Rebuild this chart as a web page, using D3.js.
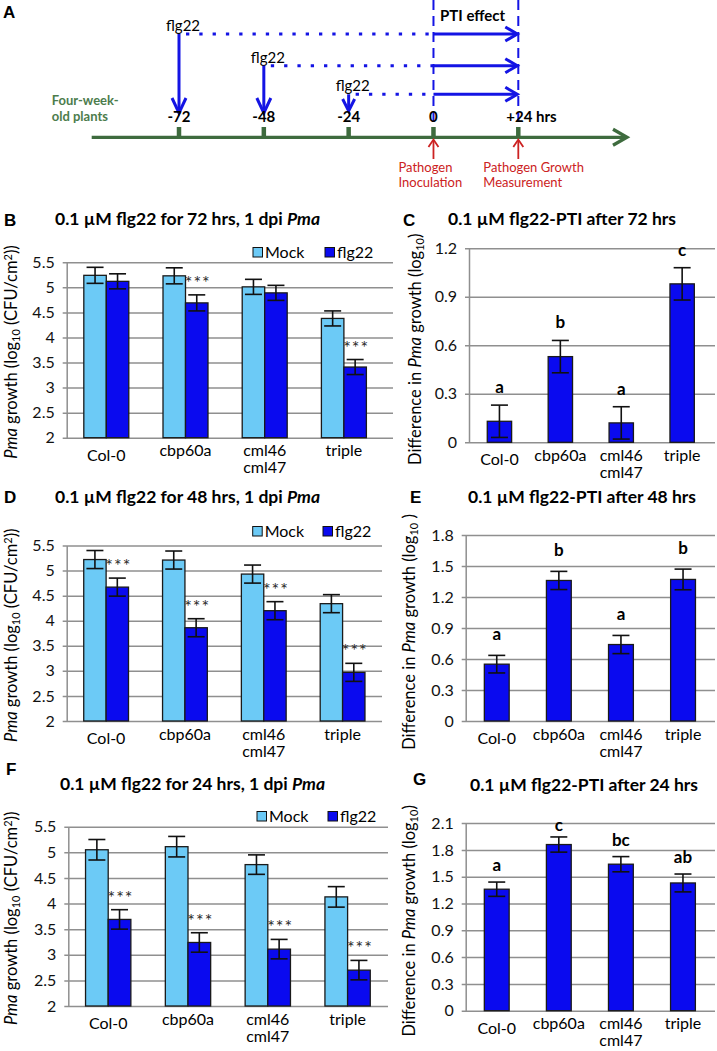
<!DOCTYPE html>
<html><head><meta charset="utf-8">
<script src="https://cdn.jsdelivr.net/npm/d3@7"></script>
<style>
body{margin:0;background:#fff}
svg{display:block}
text{font-family:Lato,"Open Sans",sans-serif}
</style>
</head><body>
<svg id="fig" width="717" height="1051"></svg>
<script>
// ---------------- data ----------------
const categories = ["Col-0", "cbp60a", "cml46\ncml47", "triple"];
const seriesNames = ["Mock", "flg22"];
const growthTicks = [2, 2.5, 3, 3.5, 4, 4.5, 5, 5.5];

// Panel B: 72 h
const mock72 = [5.24, 5.23, 5.01, 4.38];
const mockErr72 = [0.16, 0.16, 0.15, 0.15];
const flg72 = [5.12, 4.69, 4.89, 3.41];
const flgErr72 = [0.15, 0.16, 0.15, 0.15];
const sig72 = ["", "***", "", "***"];
// Panel C
const diff72 = [0.13, 0.53, 0.12, 0.98];
const diffErr72 = [0.10, 0.10, 0.10, 0.10];
const letters72 = ["a", "b", "a", "c"];
const diffTicks72 = [0, 0.3, 0.6, 0.9, 1.2];

// Panel D: 48 h
const mock48 = [5.22, 5.21, 4.93, 4.34];
const mockErr48 = [0.18, 0.18, 0.18, 0.18];
const flg48 = [4.67, 3.86, 4.20, 2.97];
const flgErr48 = [0.18, 0.18, 0.18, 0.18];
const sig48 = ["***", "***", "***", "***"];
// Panel E
const diff48 = [0.55, 1.36, 0.74, 1.37];
const diffErr48 = [0.085, 0.088, 0.088, 0.10];
const letters48 = ["a", "b", "a", "b"];
const diffTicks48 = [0, 0.3, 0.6, 0.9, 1.2, 1.5, 1.8];

// Panel F: 24 h
const mock24 = [5.05, 5.11, 4.76, 4.13];
const mockErr24 = [0.20, 0.20, 0.19, 0.20];
const flg24 = [3.69, 3.24, 3.11, 2.70];
const flgErr24 = [0.19, 0.19, 0.19, 0.19];
const sig24 = ["***", "***", "***", "***"];
// Panel G
const diff24 = [1.36, 1.86, 1.64, 1.43];
const diffErr24 = [0.08, 0.085, 0.085, 0.10];
const letters24 = ["a", "c", "bc", "ab"];
const diffTicks24 = [0, 0.3, 0.6, 0.9, 1.2, 1.5, 1.8, 2.1];

// Panel A: timeline
const timePoints = [-72, -48, -24, 0, 24];
const timeLabels = ["-72", "-48", "-24", "0", "+24 hrs"];
const treatmentTimes = [-72, -48, -24];
const treatmentLabel = "flg22";
const eventTimes = [0, 24];
const eventLabels = [["Pathogen", "Inoculation"], ["Pathogen Growth", "Measurement"]];

// ---------------- style ----------------
const C_MOCK = "#6ccaf6", C_FLG = "#0a0aef", C_GRID = "#8f8f8f";
const C_BLUE = "#1414e4", C_GREEN = "#3e6b3e", C_GTEXT = "#4c7c4c", C_RED = "#cc2222";
const FS_TICK = 16, FS_CAT = 16, FS_TITLE = 17.5, FS_YT = 16.5, FS_LEG = 16;
const svg = d3.select("#fig");

function panelLetter(t, x, y) {
  svg.append("text").attr("x", x).attr("y", y).text(t)
    .style("font-family", "'Liberation Sans',Arial,sans-serif")
    .attr("font-weight", "bold").attr("font-size", 17);
}

// ---------------- Panel A ----------------
(function () {
  panelLetter("A", 3, 18);
  const g = svg.append("g");
  const xT = d3.scaleLinear().domain([-72, 24]).range([179, 518.3]);
  const axisY = 137.3;
  const rowY = [34, 65.7, 94.3];
  const tipY = [113, 113, 111];

  eventTimes.forEach(t => {
    g.append("line").attr("x1", xT(t)).attr("x2", xT(t)).attr("y1", 0).attr("y2", 128)
      .attr("stroke", C_BLUE).attr("stroke-width", 2).attr("stroke-dasharray", "10,6");
  });
  g.append("text").attr("x", 440).attr("y", 21).text("PTI effect")
    .attr("font-weight", "bold").attr("font-size", 15);

  treatmentTimes.forEach((t, i) => {
    const x = xT(t), y = rowY[i];
    g.append("text").attr("x", x - 13).attr("y", y - 3).text(treatmentLabel).attr("font-size", 15);
    g.append("line").attr("x1", x).attr("x2", x).attr("y1", y).attr("y2", tipY[i] - 1.5)
      .attr("stroke", C_BLUE).attr("stroke-width", 3);
    const ah = i === 2 ? 12 : 15, aw = i === 2 ? 6 : 7;
    g.append("polyline").attr("points", `${x - aw},${tipY[i] - ah} ${x},${tipY[i]} ${x + aw},${tipY[i] - ah}`)
      .attr("fill", "none").attr("stroke", C_BLUE).attr("stroke-width", 3);
    g.append("line").attr("x1", x + 7).attr("x2", xT(0)).attr("y1", y).attr("y2", y)
      .attr("stroke", C_BLUE).attr("stroke-width", 3).attr("stroke-dasharray", "3.3,10");
    const xe = xT(24) - 1;
    g.append("line").attr("x1", xT(0)).attr("x2", xe - 1).attr("y1", y).attr("y2", y)
      .attr("stroke", C_BLUE).attr("stroke-width", 3);
    g.append("polyline").attr("points", `${xe - 12},${y - 7} ${xe},${y} ${xe - 12},${y + 7}`)
      .attr("fill", "none").attr("stroke", C_BLUE).attr("stroke-width", 3);
  });

  g.append("line").attr("x1", 91.7).attr("x2", 626).attr("y1", axisY).attr("y2", axisY)
    .attr("stroke", C_GREEN).attr("stroke-width", 3.3);
  g.append("polyline").attr("points", `613,${axisY - 8} 627,${axisY} 613,${axisY + 8}`)
    .attr("fill", "none").attr("stroke", C_GREEN).attr("stroke-width", 3.3);
  timePoints.forEach((t, i) => {
    g.append("line").attr("x1", xT(t)).attr("x2", xT(t)).attr("y1", 127).attr("y2", axisY)
      .attr("stroke", C_GREEN).attr("stroke-width", 4.5);
    const last = i === timePoints.length - 1;
    g.append("text").attr("x", last ? xT(t) - 12 : xT(t)).attr("y", 122)
      .attr("text-anchor", last ? "start" : "middle")
      .attr("font-weight", "bold").attr("font-size", 15).text(timeLabels[i]);
  });
  g.append("text").attr("x", 51.7).attr("y", 104.5).text("Four-week-")
    .attr("font-weight", "bold").attr("font-size", 13).attr("fill", C_GTEXT);
  g.append("text").attr("x", 51.7).attr("y", 120.5).text("old plants")
    .attr("font-weight", "bold").attr("font-size", 13).attr("fill", C_GTEXT);

  eventTimes.forEach((t, i) => {
    const x = xT(t);
    g.append("line").attr("x1", x).attr("x2", x).attr("y1", 159).attr("y2", 140)
      .attr("stroke", C_RED).attr("stroke-width", 1.8);
    g.append("polyline").attr("points", `${x - 5},${147} ${x},${139.5} ${x + 5},${147}`)
      .attr("fill", "none").attr("stroke", C_RED).attr("stroke-width", 1.8);
    eventLabels[i].forEach((s, j) => {
      g.append("text").attr("x", x - 35).attr("y", 172 + j * 15).text(s)
        .attr("font-size", 13).attr("fill", C_RED);
    });
  });
})();

// ---------------- helpers ----------------
function categoryLabels(g, x, yBase) {
  categories.forEach(c => {
    const lines = c.split("\n");
    const cx = x(c) + x.bandwidth() / 2;
    const y0 = yBase + (c === "Col-0" ? 23 : 18.5);
    lines.forEach((s, j) => g.append("text").attr("text-anchor", "middle")
      .attr("font-size", FS_CAT).attr("x", cx).attr("y", y0 + j * 17).text(s));
  });
}

function errorBar(g, cx, yTop, yBot) {
  g.append("line").attr("x1", cx).attr("x2", cx).attr("y1", yTop).attr("y2", yBot)
    .attr("stroke", "#111").attr("stroke-width", 1.6);
  [yTop, yBot].forEach(yy => g.append("line").attr("x1", cx - 8.5).attr("x2", cx + 8.5)
    .attr("y1", yy).attr("y2", yy).attr("stroke", "#111").attr("stroke-width", 1.6));
}

function styleAxis(ax) {
  ax.select(".domain").attr("stroke", C_GRID).attr("stroke-width", 1.5);
  ax.selectAll(".tick line").attr("stroke", C_GRID).attr("stroke-width", 1.5).attr("x1", -4);
  ax.selectAll(".tick text").attr("font-size", FS_TICK).attr("fill", "#111").style("font-family", "Lato");
}

function drawGrouped(p) {
  const g = svg.append("g");
  const y = d3.scaleLinear().domain([2, 5.5]).range([p.y2, p.y55]);
  const x0 = d3.scaleBand().domain(categories).range([p.left, p.right])
    .paddingInner(0.432).paddingOuter(0.216);
  const x1 = d3.scaleBand().domain(seriesNames).range([0, x0.bandwidth()]);
  const color = d3.scaleOrdinal().domain(seriesNames).range([C_MOCK, C_FLG]);

  const ax = g.append("g").attr("transform", `translate(${p.left},0)`)
    .call(d3.axisLeft(y).tickValues(growthTicks).tickFormat(d3.format("~g"))
      .tickSizeInner(-(p.gridRight - p.left)).tickSizeOuter(0).tickPadding(12));
  styleAxis(ax);

  const data = categories.map((c, i) => ({
    c, sig: p.sig[i],
    vals: [{ s: "Mock", v: p.mock[i], e: p.mockErr[i] }, { s: "flg22", v: p.flg[i], e: p.flgErr[i] }]
  }));
  data.forEach(d => {
    d.vals.forEach(b => {
      const bx = x0(d.c) + x1(b.s);
      g.append("rect").attr("x", bx).attr("width", x1.bandwidth())
        .attr("y", y(b.v)).attr("height", y(2) - y(b.v))
        .attr("fill", color(b.s)).attr("stroke", "#1a1a1a").attr("stroke-width", 1.3);
    });
    d.vals.forEach(b => {
      const cx = x0(d.c) + x1(b.s) + x1.bandwidth() / 2;
      errorBar(g, cx, y(b.v + b.e), y(b.v - b.e));
    });
    if (d.sig) {
      const b = d.vals[1];
      g.append("text").attr("x", x0(d.c) + x1("flg22") + x1.bandwidth() / 2 + 1)
        .attr("y", y(b.v + b.e) - 6).attr("text-anchor", "middle")
        .attr("font-size", 18).attr("letter-spacing", 1).attr("fill", "#2a2a2a").text(d.sig);
    }
  });
  categoryLabels(g, x0, y(2));

  seriesNames.forEach((s, i) => {
    const lx = p.legendX[i];
    g.append("rect").attr("x", lx).attr("y", p.legendY - 4.5).attr("width", 9.5).attr("height", 9.5)
      .attr("fill", color(s)).attr("stroke", "#111").attr("stroke-width", 1);
    g.append("text").attr("x", lx + 12).attr("y", p.legendY + 6).attr("font-size", FS_LEG).text(s);
  });

  const cy = (y(2) + y(5.5)) / 2 + p.ytOff;
  const t = g.append("text").attr("transform", `translate(${p.ytX},${cy}) rotate(-90)`)
    .attr("text-anchor", "middle").attr("font-size", FS_YT);
  t.append("tspan").attr("font-style", "italic").text("Pma");
  t.append("tspan").text(" growth (log");
  t.append("tspan").attr("font-size", 11).attr("dy", 3).text("10");
  t.append("tspan").attr("dy", -3).text(" (CFU/cm");
  t.append("tspan").attr("font-size", 11).attr("dy", -5).text("2");
  t.append("tspan").attr("dy", 5).text("))");

  const tt = g.append("text").attr("x", p.titleX).attr("y", p.titleY)
    .attr("font-weight", "bold").attr("font-size", FS_TITLE);
  tt.append("tspan").text(p.title);
  tt.append("tspan").attr("font-style", "italic").text("Pma");
  panelLetter(p.letter, p.letterX, p.letterY);
}

function drawDiff(p) {
  const g = svg.append("g");
  const top = p.ticks[p.ticks.length - 1];
  const y = d3.scaleLinear().domain([0, top]).range([p.y0, p.yTop]);
  const x = d3.scaleBand().domain(categories).range([p.left, p.right])
    .paddingInner(0.6).paddingOuter(0.3);

  const ax = g.append("g").attr("transform", `translate(${p.left},0)`)
    .call(d3.axisLeft(y).tickValues(p.ticks).tickFormat(d3.format("~g"))
      .tickSizeInner(-(p.gridRight - p.left)).tickSizeOuter(0).tickPadding(12));
  styleAxis(ax);

  categories.forEach((c, i) => {
    const v = p.vals[i], e = p.errs[i];
    g.append("rect").attr("x", x(c)).attr("width", x.bandwidth())
      .attr("y", y(v)).attr("height", y(0) - y(v))
      .attr("fill", C_FLG).attr("stroke", "#1a1a1a").attr("stroke-width", 1.3);
    const cx = x(c) + x.bandwidth() / 2;
    errorBar(g, cx, y(v + e), y(v - e));
    g.append("text").attr("x", cx).attr("y", Math.max(y(v + e) - p.letterGap, y(top) + 8))
      .attr("text-anchor", "middle").attr("font-weight", "bold").attr("font-size", 17)
      .text(p.letters[i]);
  });
  categoryLabels(g, x, y(0));

  const cy = (y(0) + y(top)) / 2 + p.ytOff;
  const t = g.append("text").attr("transform", `translate(${p.ytX},${cy}) rotate(-90)`)
    .attr("text-anchor", "middle").attr("font-size", FS_YT);
  t.append("tspan").text("Difference in ");
  t.append("tspan").attr("font-style", "italic").text("Pma");
  t.append("tspan").text(" growth (log");
  t.append("tspan").attr("font-size", 11).attr("dy", 3).text("10");
  t.append("tspan").attr("dy", -3).text(p.closeSpace ? " )" : ")");

  g.append("text").attr("x", p.titleX).attr("y", p.titleY)
    .attr("font-weight", "bold").attr("font-size", FS_TITLE).text(p.title);
  panelLetter(p.letter, p.letterX, p.letterY);
}

// ---------------- panels ----------------
drawGrouped({ mock: mock72, mockErr: mockErr72, flg: flg72, flgErr: flgErr72, sig: sig72,
  left: 66.7, right: 383.5, gridRight: 393, y2: 437.7, y55: 262.3,
  legendX: [253, 325], legendY: 252, ytX: 17, ytOff: 2,
  title: "0.1 µM flg22 for 72 hrs, 1 dpi ", titleX: 55, titleY: 225,
  letter: "B", letterX: 4, letterY: 226 });

drawDiff({ vals: diff72, errs: diffErr72, letters: letters72, ticks: diffTicks72,
  left: 469, right: 712.6, gridRight: 715, y0: 442.3, yTop: 248.3, letterGap: 12,
  ytX: 421, ytOff: 4, closeSpace: false,
  title: "0.1 µM flg22-PTI after 72 hrs", titleX: 448, titleY: 224.5,
  letter: "C", letterX: 403, letterY: 226 });

drawGrouped({ mock: mock48, mockErr: mockErr48, flg: flg48, flgErr: flgErr48, sig: sig48,
  left: 66.7, right: 382, gridRight: 382, y2: 721, y55: 545.5,
  legendX: [252.7, 323], legendY: 531, ytX: 17, ytOff: 2,
  title: "0.1 µM flg22 for 48 hrs, 1 dpi ", titleX: 55, titleY: 503,
  letter: "D", letterX: 4, letterY: 503 });

drawDiff({ vals: diff48, errs: diffErr48, letters: letters48, ticks: diffTicks48,
  left: 465.7, right: 714.1, gridRight: 715, y0: 721, yTop: 535, letterGap: 15,
  ytX: 415, ytOff: 4, closeSpace: true,
  title: "0.1 µM flg22-PTI after 48 hrs", titleX: 468, titleY: 503,
  letter: "E", letterX: 410, letterY: 503 });

drawGrouped({ mock: mock24, mockErr: mockErr24, flg: flg24, flgErr: flgErr24, sig: sig24,
  left: 68.3, right: 387.5, gridRight: 388, y2: 1006, y55: 826.7,
  legendX: [257, 328], legendY: 816, ytX: 17, ytOff: 2,
  title: "0.1 µM flg22 for 24 hrs, 1 dpi ", titleX: 60, titleY: 789.5,
  letter: "F", letterX: 6, letterY: 775 });

drawDiff({ vals: diff24, errs: diffErr24, letters: letters24, ticks: diffTicks24,
  left: 465.7, right: 714, gridRight: 715, y0: 1010.7, yTop: 823.1, letterGap: 11,
  ytX: 415, ytOff: 4, closeSpace: false,
  title: "0.1 µM flg22-PTI after 24 hrs", titleX: 470, titleY: 791,
  letter: "G", letterX: 413, letterY: 785 });
</script>
</body></html>
